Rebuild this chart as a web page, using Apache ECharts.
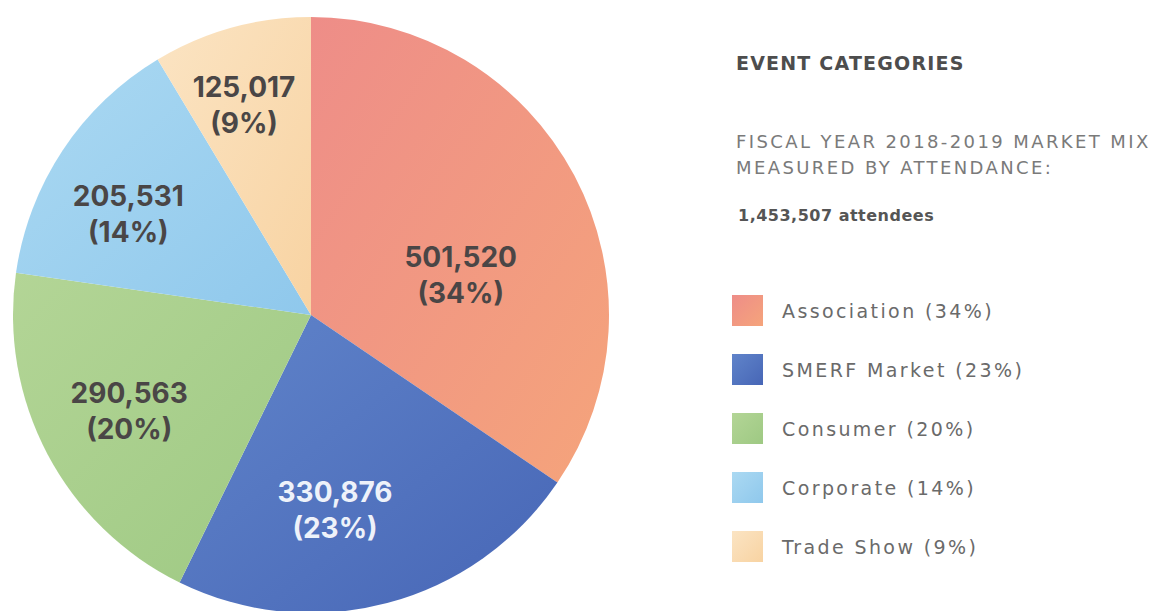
<!DOCTYPE html>
<html>
<head>
<meta charset="utf-8">
<script src="https://cdn.jsdelivr.net/npm/echarts@6/dist/echarts.min.js"></script>
<style>
  html, body { margin: 0; padding: 0; background: #ffffff; }
  #chart { width: 1156px; height: 611px; }
</style>
</head>
<body>
<div id="chart"></div>
<script>
// Fiscal year 2018-2019 market mix, by attendance
const categories = ['Association', 'SMERF Market', 'Consumer', 'Corporate', 'Trade Show'];
const attendance = [501520, 330876, 290563, 205531, 125017];
const shareLabels = ['34%', '23%', '20%', '14%', '9%'];
const headline = 'EVENT CATEGORIES';
const subtitleLines = ['FISCAL YEAR 2018-2019 MARKET MIX', 'MEASURED BY ATTENDANCE:'];
const totalLabel = '1,453,507 attendees';

// Watercolour-like fills for each category (two tones per slice)
const palette = [
  ['#ee8d88', '#f5a47b'],
  ['#6084ca', '#4766b6'],
  ['#b3d596', '#9ec983'],
  ['#abd9f2', '#8fc8ec'],
  ['#fbe4c3', '#f8d3a2']
];
const labelColors = ['#4a4646', '#eef2fa', '#4a4646', '#4a4646', '#4a4646'];
// where each value label sits: fraction of the radius, and a turn (degrees) off the slice middle
const labelReach = [0.52, 0.66, 0.69, 0.70, 0.74];
const labelTurn = [12.9, 7.8, 0, -4.7, -2.2];

const CX = 311, CY = 315, R = 298;
const total = attendance.reduce((a, b) => a + b, 0);
const midAngles = [];
let acc = 0;
attendance.forEach(v => { midAngles.push((acc + v / 2) / total * 2 * Math.PI); acc += v; });

const fmt = n => n.toLocaleString('en-US');

const chart = echarts.init(document.getElementById('chart'), null, { renderer: 'svg' });

const pieData = categories.map((name, i) => ({
  name: name,
  value: attendance[i],
  itemStyle: {
    color: new echarts.graphic.LinearGradient(0, 0, 1, 1, [
      { offset: 0, color: palette[i][0] },
      { offset: 1, color: palette[i][1] }
    ])
  },
  label: { color: labelColors[i] }
}));

const FONT = 'DejaVu Sans';

chart.setOption({
  animation: false,
  backgroundColor: '#ffffff',
  title: [
    {
      text: headline,
      left: 731, top: 48,
      textStyle: { fontFamily: FONT, fontWeight: 'bold', fontSize: 19, color: '#4d4d4d' }
    },
    {
      text: subtitleLines[0],
      left: 731, top: 127,
      textStyle: { fontFamily: FONT, fontWeight: 'normal', fontSize: 18, color: '#7a7a7a' }
    },
    {
      text: subtitleLines[1],
      left: 731, top: 153,
      textStyle: { fontFamily: FONT, fontWeight: 'normal', fontSize: 18, color: '#7a7a7a' }
    },
    {
      text: totalLabel,
      left: 733, top: 202,
      textStyle: { fontFamily: FONT, fontWeight: 'bold', fontSize: 16, color: '#555555' }
    }
  ],
  legend: {
    orient: 'vertical',
    left: 727, top: 290,
    icon: 'rect',
    itemWidth: 31, itemHeight: 31,
    itemGap: 28,
    selectedMode: false,
    data: categories,
    formatter: name => name + ' (' + shareLabels[categories.indexOf(name)] + ')',
    textStyle: { fontFamily: FONT, fontSize: 19, color: '#6a6a6a', padding: [0, 0, 0, 14] }
  },
  color: palette.map(p => p[0]),
  series: [{
    type: 'pie',
    center: [CX, CY],
    radius: R,
    startAngle: 90,
    clockwise: true,
    silent: true,
    data: pieData,
    itemStyle: { borderWidth: 0 },
    label: {
      show: true,
      position: 'inside',
      fontFamily: 'Inter',
      fontWeight: 'bold',
      fontSize: 28,
      lineHeight: 36,
      formatter: p => fmt(p.value) + '\n(' + shareLabels[p.dataIndex] + ')'
    },
    labelLine: { show: false },
    labelLayout: params => {
      const i = params.dataIndex;
      const a = midAngles[i] + labelTurn[i] * Math.PI / 180;
      const d = R * labelReach[i];
      return {
        x: CX + d * Math.sin(a),
        y: CY - d * Math.cos(a),
        align: 'center',
        verticalAlign: 'middle'
      };
    }
  }]
});

// Widen the tracking of the side-panel type
document.querySelectorAll('#chart svg text').forEach(t => {
  const s = t.textContent;
  let ls = 0;
  if (s === headline) ls = 1.2;
  else if (subtitleLines.indexOf(s) >= 0) ls = 2.4;
  else if (s === totalLabel) ls = 0.5;
  else if (categories.some(c => s.indexOf(c) === 0)) ls = 2.4;
  if (ls) t.style.letterSpacing = ls + 'px';
});
</script>
</body>
</html>
